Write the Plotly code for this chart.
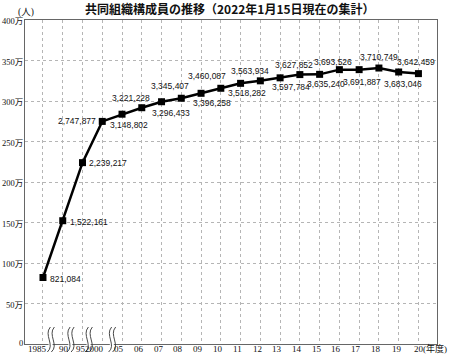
import plotly.graph_objects as go

# ---------------- data ----------------
year_labels = ["1985", "90", "95", "2000", "05", "06", "07", "08", "09", "10",
               "11", "12", "13", "14", "15", "16", "17", "18", "19", "20"]
# member counts printed on the chart (persons)
member_counts = [821084, 1522161, 2239217, 2747877, 3148802, 3221228, 3296433,
                 3345407, 3396258, 3460087, 3518282, 3563934, 3597784, 3627852,
                 3635240, 3693526, 3691887, 3710749, 3683046, 3642459]
# vertical position of each marker as drawn in the picture (unit: 万人)
drawn_man = [82.1, 152.2, 223.9, 274.8, 283.7, 291.7, 299.1, 303.4, 309.5, 315.7,
             321.8, 324.9, 328.6, 332.6, 332.9, 338.7, 338.7, 340.7, 335.8, 333.8]
y_tick_values = [0, 50, 100, 150, 200, 250, 300, 350, 400]
y_tick_labels = ["0", "50万", "100万", "150万", "200万", "250万", "300万", "350万", "400万"]

# ---------------- layout constants ----------------
W, H = 450, 355
ML, MR, MT, MB = 25, 13, 19.5, 10.5
XMIN, XMAX = -0.91, 19.94
PH = H - MT - MB
PW = W - ML - MR

pos = list(range(len(year_labels)))

SERIF = "'Liberation Serif', 'Times New Roman', 'Noto Sans CJK JP', serif"
SANS = "'Liberation Sans', Arial, sans-serif"

fig = go.Figure()
fig.add_trace(go.Scatter(
    x=pos, y=drawn_man, mode="lines+markers",
    line=dict(color="#000000", width=2.5),
    marker=dict(symbol="square", size=7, color="#000000"),
    hoverinfo="skip", showlegend=False, cliponaxis=False,
))

annotations = []
NOPAD = dict(borderpad=0, borderwidth=0, showarrow=False)

# value labels: (anchor, dx, dy)  dy positive = downward in pixels
label_place = [("left", 7, 1), ("left", 7, 1), ("left", 6, 0), ("right", -6, 0),
               ("center", 6.5, 11), ("center", -10.5, -9.5), ("center", 9.5, 11),
               ("center", -11.5, -12), ("center", 10.5, 10), ("center", -13.5, -12),
               ("center", 6.5, 10), ("center", -10.5, -10), ("center", 11, 9),
               ("center", -5.5, -10), ("center", 6.5, 9.5), ("center", -6, -8),
               ("center", 3, 12), ("center", 0, -11), ("center", 4.5, 11.5),
               ("center", -2.5, -11.5)]
for p, v, c, (anc, dx, dy) in zip(pos, drawn_man, member_counts, label_place):
    annotations.append(dict(
        x=p, y=v, xref="x", yref="y", text=f"{c:,}",
        xanchor=anc, yanchor="middle", xshift=dx, yshift=-dy,
        font=dict(family=SANS, size=8.5, color="#111111"), **NOPAD,
    ))

# y tick labels
for v, lab in zip(y_tick_values, y_tick_labels):
    annotations.append(dict(
        x=0, y=v, xref="paper", yref="y", text=lab,
        xanchor="right", yanchor="middle", xshift=-2, yshift=(1 if v == 0 else -1),
        font=dict(family=SERIF, size=8.5, color="#111111"), **NOPAD,
    ))

# x tick labels
x_label_shift = [-5, 1, -2, -8, -3, -3, -3, -3, -3, -3, -3, -3, -3, -3, -3, -3, -3, -3, -2, 0]
label_y = -(5.0 / PH)
for p, lab, sh in zip(pos, year_labels, x_label_shift):
    text = "20(年度)" if lab == "20" else lab
    annotations.append(dict(
        x=p, y=label_y, xref="x", yref="paper", text=text,
        xanchor="left" if lab == "20" else "center", yanchor="middle",
        xshift=-4.5 if lab == "20" else sh,
        font=dict(family=SERIF, size=9, color="#111111"), **NOPAD,
    ))

# title and unit
annotations.append(dict(
    x=(230 - ML) / PW, y=(H - MB - 7.5) / PH, xref="paper", yref="paper",
    text="<b>共同組織構成員の推移（2022年1月15日現在の集計）</b>",
    xanchor="center", yanchor="middle",
    font=dict(family="Noto Sans CJK JP", size=12, color="#111111"), **NOPAD,
))
annotations.append(dict(
    x=0, y=(H - MB - 12) / PH, xref="paper", yref="paper", text="(人)",
    xanchor="center", yanchor="middle", xshift=0.5,
    font=dict(family=SERIF, size=9.5, color="#111111"), **NOPAD,
))

# axis break marks between the early (5-year) categories
break_px_offset = [-2.5, -2.5, -4, -0.5]
shapes = []
for i in range(4):
    mid = (pos[i] + pos[i + 1]) / 2
    fx = (mid - XMIN) / (XMAX - XMIN) + break_px_offset[i] / PW
    common = dict(type="path", xref="paper", yref="paper", xsizemode="pixel",
                  ysizemode="pixel", xanchor=fx, yanchor=0, layer="above")
    fill = "M -2.5,3 L 1.5,3 L 2.5,-2 L -1.5,-2 Z"
    a = "M 0,17 C -7,9 5,-1 -3,-8"
    b = "M 4,17 C -3,9 9,-1 1,-8"
    shapes.append(dict(path=fill, fillcolor="white", line=dict(width=0), **common))
    shapes.append(dict(path=a, line=dict(color="#333333", width=0.9), **common))
    shapes.append(dict(path=b, line=dict(color="#333333", width=0.9), **common))

fig.update_layout(
    width=W, height=H,
    margin=dict(l=ML, r=MR, t=MT, b=MB, pad=0, autoexpand=False),
    paper_bgcolor="white", plot_bgcolor="white",
    showlegend=False,
    annotations=annotations,
    shapes=shapes,
    xaxis=dict(
        range=[XMIN, XMAX], tickvals=pos, showticklabels=False,
        showgrid=True, gridcolor="#b5b5b5", griddash="dot", gridwidth=1,
        showline=True, linecolor="#666666", linewidth=1, mirror=True,
        zeroline=False, ticks="", fixedrange=True, automargin=False,
    ),
    yaxis=dict(
        range=[0, 400], tickvals=y_tick_values, showticklabels=False,
        showgrid=True, gridcolor="#b5b5b5", griddash="dot", gridwidth=1,
        showline=True, linecolor="#666666", linewidth=1, mirror=True,
        zeroline=False, ticks="", automargin=False, fixedrange=True,
    ),
)

fig.write_html("out.html")
